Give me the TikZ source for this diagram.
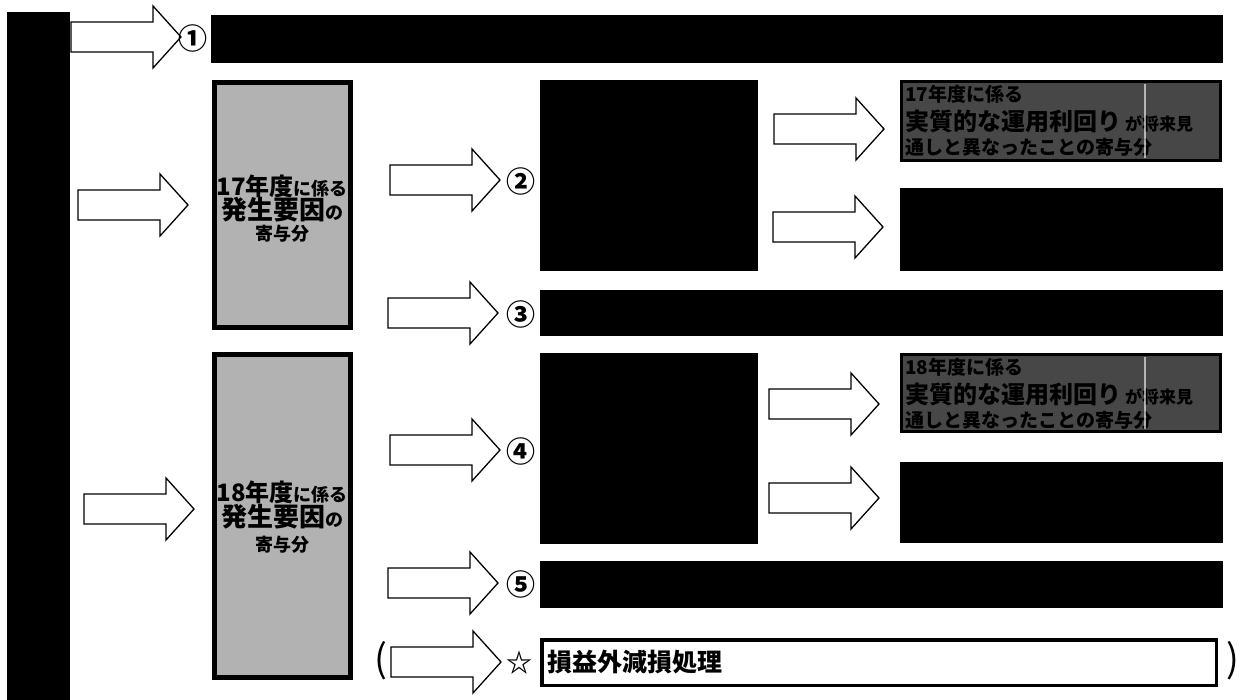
\documentclass[tikz,border=0pt]{standalone}
\usepackage{fontspec}
\newfontfamily\jp{Noto Sans CJK JP}
\newcommand\fs[1]{\fontsize{#1}{#1}\selectfont}
\tikzset{
  blk/.style={fill=black,draw=black,line width=0.6pt},
  lgbox/.style={fill=black!30,draw=black,line width=5pt},
  dgbox/.style={fill=black!72,draw=black,line width=3pt},
  wbox/.style={fill=white,draw=black,line width=3.5pt},
  arrowshape/.style={fill=white,draw=black,line width=1.3pt,line join=miter},
  lbl/.style={inner sep=0pt,font=\jp\bfseries,text=black},
  num/.style={inner sep=0pt,font=\jp\bfseries\fs{29}},
}
\newcommand\barrow[3]{%
  \draw[arrowshape] ({#2},{#3-15}) coordinate (#1) -- ({#2+82},{#3-15}) -- ({#2+82},{#3-31})
    -- ({#2+110},{#3}) -- ({#2+82},{#3+31}) -- ({#2+82},{#3+15}) -- ({#2},{#3+15}) -- cycle;}
\begin{document}
\begin{tikzpicture}[x=1pt,y=-1pt]
\useasboundingbox[fill=white] (0,0) rectangle (1242,700);
% left bar
\fill[black] (7,12) rectangle (70,700);
% row 1
\barrow{a1}{71}{37}
\node[num] (n1) at (193,38) {①};
\draw[blk] (211,15) rectangle (1222,62);
% 17 box
\draw[lgbox] (214.5,82.5) rectangle (350.5,327.5);
\node[lbl,anchor=base] (t17a) at (282,196) {\fs{24}17年度\fs{18}に係る};
\node[lbl,anchor=base] (t17b) at (282,220) {\fs{26}発生要因\fs{18}の};
\node[lbl,anchor=base] (t17c) at (282,241) {\fs{18}寄与分};
\barrow{a17}{78}{205}
% 2
\barrow{a2}{390}{180}
\node[num] (n2) at (521,181) {②};
\draw[blk] (540,80) rectangle (757,270);
\barrow{a2u}{774}{129}
\barrow{a2l}{773}{227}
\draw[dgbox] (901.5,81.5) rectangle (1220.5,160.5);
\node[lbl,anchor=base west] (g17a) at (905,102) {\fs{19}17年度に係る};
\node[lbl,anchor=base west] (g17b) at (905,131) {\fs{24}実質的な運用利回り\,\fs{17}が将来見};
\node[lbl,anchor=base west] (g17c) at (905,155) {\fs{19}通しと異なったことの寄与分};
\draw[white,line width=2pt,opacity=0.6] (1145,84) -- (1145,158);
\draw[blk] (900,188) rectangle (1222,270);
% 3
\barrow{a3}{388}{313}
\node[num] (n3) at (521,314) {③};
\draw[blk] (540,290) rectangle (1222,335);
% 18 box
\draw[lgbox] (214.5,354.5) rectangle (350.5,677.5);
\node[lbl,anchor=base] (t18a) at (282,501) {\fs{24}18年度\fs{18}に係る};
\node[lbl,anchor=base] (t18b) at (282,526) {\fs{26}発生要因\fs{18}の};
\node[lbl,anchor=base] (t18c) at (282,551) {\fs{18}寄与分};
\barrow{a18}{84}{509}
% 4
\barrow{a4}{390}{450}
\node[num] (n4) at (521,451) {④};
\draw[blk] (540,353) rectangle (757,543);
\barrow{a4u}{769}{404}
\barrow{a4l}{769}{498}
\draw[dgbox] (901.5,354.5) rectangle (1220.5,431.5);
\node[lbl,anchor=base west] (g18a) at (905,375) {\fs{19}18年度に係る};
\node[lbl,anchor=base west] (g18b) at (905,403) {\fs{24}実質的な運用利回り\,\fs{17}が将来見};
\node[lbl,anchor=base west] (g18c) at (905,427) {\fs{19}通しと異なったことの寄与分};
\draw[white,line width=2pt,opacity=0.6] (1145,357) -- (1145,429);
\draw[blk] (900,462) rectangle (1222,542);
% 5
\barrow{a5}{388}{583}
\node[num] (n5) at (521,584) {⑤};
\draw[blk] (540,561) rectangle (1222,607);
% star
\barrow{as}{391}{662}
\node[lbl,font=\jp\fs{38}] (lp) at (381,661) {(};
\node[num,font=\jp\bfseries\fs{26}] (st) at (519,663) {☆};
\draw[wbox] (541.75,639.75) rectangle (1216.25,685.25);
\node[lbl,anchor=west] (sl) at (547,662) {\fs{25}損益外減損処理};
\node[lbl,font=\jp\fs{38}] (rp) at (1233,661) {)};
\end{tikzpicture}
\end{document}
